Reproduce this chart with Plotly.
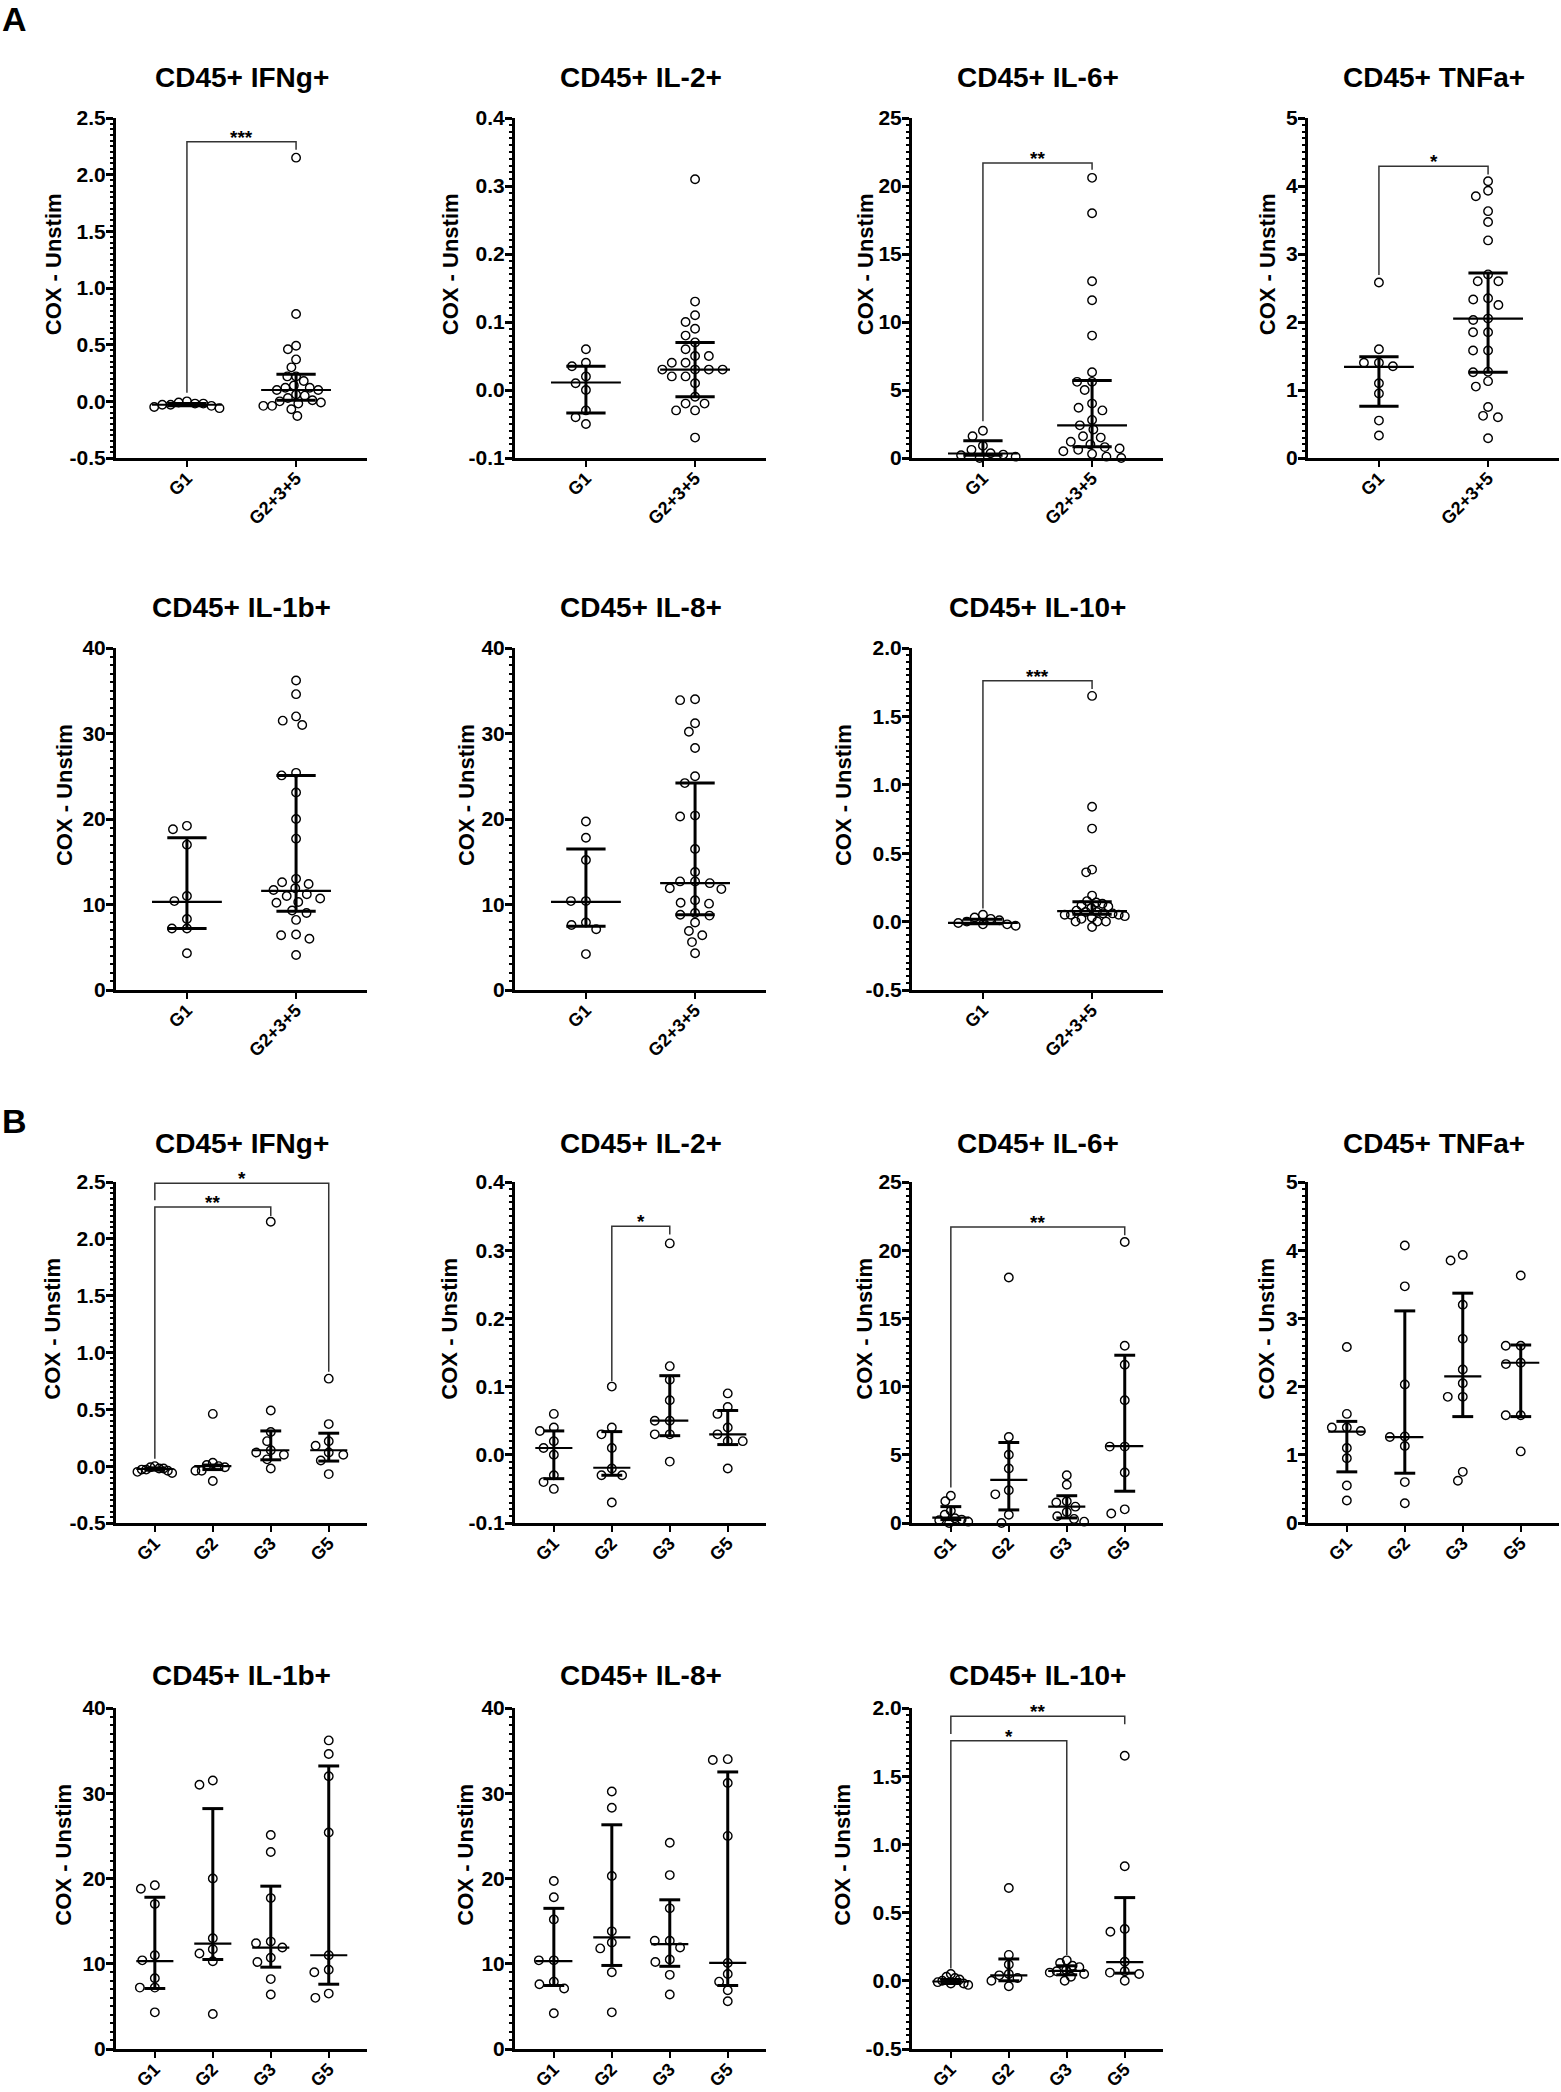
import math
import plotly.graph_objects as go

W, H = 1561, 2092
FONT = "Liberation Sans, Arial, sans-serif"

# ---- data (COX - Unstim values per donor) ----
CYTOKINES = ["IFNg", "IL-2", "IL-6", "TNFa", "IL-1b", "IL-8", "IL-10"]
GROUPS_A = ["G1", "G2+3+5"]
GROUPS_B = ["G1", "G2", "G3", "G5"]

IFNG_G1 = [0.00, -0.01, -0.02, -0.02, -0.03, -0.03, -0.04, -0.05, -0.06]
IFNG_G2 = [0.46, 0.03, 0.01, 0.00, -0.01, -0.04, -0.04, -0.13]
IFNG_G3 = [2.15, 0.49, 0.30, 0.22, 0.14, 0.12, 0.10, 0.06, -0.02]
IFNG_G5 = [0.77, 0.37, 0.22, 0.18, 0.12, 0.10, 0.05, -0.07]

IL2_G1 = [0.06, 0.04, 0.035, 0.02, 0.01, 0.00, -0.03, -0.04, -0.05]
IL2_G2 = [0.10, 0.04, 0.03, 0.01, -0.02, -0.03, -0.03, -0.07]
IL2_G3 = [0.31, 0.13, 0.11, 0.08, 0.05, 0.05, 0.03, 0.03, -0.01]
IL2_G5 = [0.09, 0.07, 0.06, 0.04, 0.03, 0.02, 0.02, -0.02]

IL6_G1 = [2.0, 1.6, 0.9, 0.6, 0.35, 0.25, 0.2, 0.1, 0.0]
IL6_G2 = [18.0, 6.3, 5.0, 4.0, 2.4, 2.1, 0.6, 0.0]
IL6_G3 = [3.5, 2.8, 1.6, 1.5, 1.2, 0.8, 0.5, 0.3, 0.1]
IL6_G5 = [20.6, 13.0, 11.6, 9.0, 5.6, 5.6, 3.7, 1.0, 0.7]

TNF_G1 = [2.58, 1.6, 1.4, 1.4, 1.35, 1.1, 0.95, 0.55, 0.33]
TNF_G2 = [4.07, 3.47, 2.03, 1.27, 1.26, 1.13, 0.6, 0.29]
TNF_G3 = [3.93, 3.85, 3.2, 2.7, 2.25, 2.05, 1.85, 1.85, 0.75, 0.62]
TNF_G5 = [3.63, 2.6, 2.6, 2.35, 2.33, 1.58, 1.58, 1.05]

IL1B_G1 = [19.2, 18.8, 17.0, 11.0, 10.4, 8.3, 7.2, 7.2, 4.3]
IL1B_G2 = [31.5, 31.0, 20.0, 13.0, 11.7, 11.2, 10.3, 4.1]
IL1B_G3 = [25.1, 23.1, 17.7, 12.6, 12.4, 11.9, 10.7, 10.2, 8.2, 6.4]
IL1B_G5 = [36.2, 34.6, 32.0, 25.4, 11.0, 9.3, 9.0, 6.5, 6.0]

IL8_G1 = [19.7, 17.8, 15.2, 10.4, 10.4, 7.9, 7.6, 7.1, 4.2]
IL8_G2 = [30.2, 28.3, 20.3, 13.8, 12.5, 11.8, 9.0, 4.3]
IL8_G3 = [24.2, 20.4, 16.5, 12.7, 12.7, 11.9, 10.5, 10.2, 8.7, 6.4]
IL8_G5 = [34.0, 33.9, 31.2, 25.0, 10.1, 8.8, 7.9, 6.9, 5.6]

IL10_G1 = [0.05, 0.03, 0.02, 0.01, 0.00, -0.01, -0.02, -0.02, -0.03]
IL10_G2 = [0.68, 0.19, 0.12, 0.05, 0.04, 0.02, 0.00, -0.04]
IL10_G3 = [0.15, 0.13, 0.11, 0.10, 0.08, 0.07, 0.06, 0.05, 0.03, 0.00]
IL10_G5 = [1.65, 0.84, 0.38, 0.36, 0.14, 0.07, 0.06, 0.05, 0.00]

VALUES = {
    "IFNg": [IFNG_G1, IFNG_G2, IFNG_G3, IFNG_G5],
    "IL-2": [IL2_G1, IL2_G2, IL2_G3, IL2_G5],
    "IL-6": [IL6_G1, IL6_G2, IL6_G3, IL6_G5],
    "TNFa": [TNF_G1, TNF_G2, TNF_G3, TNF_G5],
    "IL-1b": [IL1B_G1, IL1B_G2, IL1B_G3, IL1B_G5],
    "IL-8": [IL8_G1, IL8_G2, IL8_G3, IL8_G5],
    "IL-10": [IL10_G1, IL10_G2, IL10_G3, IL10_G5],
}

# median with interquartile range as drawn: (median, q1, q3)
SUMMARY_A = {
    "IFNg": [(-0.03, -0.04, -0.02), (0.10, 0.01, 0.24)],
    "IL-2": [(0.011, -0.034, 0.035), (0.03, -0.01, 0.07)],
    "IL-6": [(0.33, 0.2, 1.26), (2.4, 0.83, 5.7)],
    "TNFa": [(1.34, 0.76, 1.49), (2.05, 1.26, 2.72)],
    "IL-1b": [(10.3, 7.2, 17.8), (11.6, 9.2, 25.1)],
    "IL-8": [(10.3, 7.45, 16.5), (12.5, 8.8, 24.2)],
    "IL-10": [(-0.01, -0.015, 0.017), (0.076, 0.054, 0.145)],
}
SUMMARY_B = {
    "IFNg": [(-0.025, -0.035, -0.015), (0.0, -0.03, 0.01), (0.14, 0.056, 0.31), (0.14, 0.045, 0.29)],
    "IL-2": [(0.01, -0.035, 0.035), (-0.019, -0.03, 0.034), (0.05, 0.028, 0.116), (0.03, 0.015, 0.065)],
    "IL-6": [(0.4, 0.25, 1.2), (3.16, 0.96, 5.9), (1.2, 0.37, 2.0), (5.64, 2.33, 12.3)],
    "TNFa": [(1.34, 0.75, 1.49), (1.26, 0.73, 3.11), (2.15, 1.56, 3.37), (2.35, 1.56, 2.61)],
    "IL-1b": [(10.3, 7.1, 17.8), (12.35, 10.5, 28.2), (11.9, 9.6, 19.1), (11.0, 7.6, 33.2)],
    "IL-8": [(10.3, 7.45, 16.5), (13.1, 9.8, 26.3), (12.3, 9.7, 17.5), (10.1, 7.45, 32.5)],
    "IL-10": [(-0.005, -0.02, 0.01), (0.04, 0.0, 0.16), (0.073, 0.044, 0.11), (0.137, 0.056, 0.61)],
}

# significance brackets: (cytokine, left group, right group, bar y, left leg end, right leg end, stars)
BRACKETS_A = [
    ("IFNg", 0, 1, 2.29, 0.075, 2.22, "***"),
    ("IL-6", 0, 1, 21.7, 2.7, 21.2, "**"),
    ("TNFa", 0, 1, 4.29, 2.69, 4.17, "*"),
    ("IL-10", 0, 1, 1.76, 0.095, 1.70, "***"),
]
BRACKETS_B = [
    ("IFNg", 0, 3, 2.49, 2.34, 0.83, "*"),
    ("IFNg", 0, 2, 2.28, 0.065, 2.20, "**"),
    ("IL-2", 1, 2, 0.335, 0.108, 0.323, "*"),
    ("IL-6", 0, 3, 21.7, 2.6, 21.1, "**"),
    ("IL-10", 0, 3, 1.94, 1.81, 1.88, "**"),
    ("IL-10", 0, 2, 1.76, 0.09, 0.19, "*"),
]

# axis settings per cytokine: range, major step, minor step, decimals, y-title gap (px)
Y_RANGE = {"IFNg": (-0.5, 2.5), "IL-2": (-0.1, 0.4), "IL-6": (0, 25), "TNFa": (0, 5),
           "IL-1b": (0, 40), "IL-8": (0, 40), "IL-10": (-0.5, 2.0)}
Y_STEP = {"IFNg": 0.5, "IL-2": 0.1, "IL-6": 5, "TNFa": 1, "IL-1b": 10, "IL-8": 10, "IL-10": 0.5}
Y_MINOR = {"IFNg": 0.05, "IL-2": 0.01, "IL-6": 0.5, "TNFa": 0.1, "IL-1b": 1, "IL-8": 1, "IL-10": 0.05}
Y_DEC = {"IFNg": 1, "IL-2": 1, "IL-6": 0, "TNFa": 0, "IL-1b": 0, "IL-8": 0, "IL-10": 1}
YT_GAP = {"IFNg": 63, "IL-2": 65, "IL-6": 47, "TNFa": 41, "IL-1b": 52, "IL-8": 49, "IL-10": 69}

# page geometry in pixels
COL_X = [116, 515, 912, 1308]
PLOT_W = 251
ROWS = [(118, 458), (648, 990), (1182, 1523), (1708, 2049)]
TITLE_Y = [77, 607, 1143, 1675]
X_RANGE = {"A": (-0.65, 1.65), "B": (-0.67, 3.66)}


def swarm(vals, ppx, ppy, d=15.0, ky=1.6, limit=0.3):
    # beeswarm: points sharing a row sit d px apart, rows closer than d/ky px interact;
    # then the whole group is squeezed to +-limit category units like Prism does
    order = sorted(range(len(vals)), key=lambda i: -vals[i])
    placed = []
    offs = [0.0] * len(vals)
    for i in order:
        y = vals[i] * ppy * ky
        cands = [0.0]
        for px, py in placed:
            dy = abs(py - y)
            if dy < d:
                dx = math.sqrt(d * d - dy * dy)
                cands += [px - dx, px + dx]
        cands.sort(key=lambda c: (round(abs(c), 6), c))
        for c in cands:
            if all((c - px) ** 2 + (y - py) ** 2 >= d * d - 1e-6 for px, py in placed):
                offs[i] = c
                placed.append((c, y))
                break
    widest = max(abs(o) for o in offs)
    scale = min(1.0, limit * ppx / widest) if widest > 0 else 1.0
    return [o * scale / ppx for o in offs]


fig = go.Figure()
layout = {}
annotations = []
k = 0

for part, rows in (("A", (0, 1)), ("B", (2, 3))):
    groups = GROUPS_A if part == "A" else GROUPS_B
    summary = SUMMARY_A if part == "A" else SUMMARY_B
    brackets = BRACKETS_A if part == "A" else BRACKETS_B
    for idx, name in enumerate(CYTOKINES):
        r = rows[0] if idx < 4 else rows[1]
        c = idx if idx < 4 else idx - 4
        k += 1
        x0 = COL_X[c]
        top, bot = ROWS[r]
        xr = X_RANGE[part]
        yr = Y_RANGE[name]
        ppx = PLOT_W / (xr[1] - xr[0])
        ppy = (bot - top) / (yr[1] - yr[0])
        xa, ya = f"x{k}", f"y{k}"

        g1, g2, g3, g5 = VALUES[name]
        group_vals = [g1, g2 + g3 + g5] if part == "A" else [g1, g2, g3, g5]

        for g, vals in enumerate(group_vals):
            offs = swarm(vals, ppx, ppy)
            fig.add_trace(go.Scatter(
                x=[g + o for o in offs], y=vals, mode="markers", xaxis=xa, yaxis=ya,
                marker=dict(symbol="circle-open", size=8.5, color="black", line=dict(width=1.4)),
                cliponaxis=False, hoverinfo="skip"))

        for g, (med, q1, q3) in enumerate(summary[name]):
            fig.add_trace(go.Scatter(
                x=[g - 0.32, g + 0.32], y=[med, med], mode="lines", xaxis=xa, yaxis=ya,
                line=dict(color="black", width=2.2), hoverinfo="skip"))
            fig.add_trace(go.Scatter(
                x=[g, g, None, g - 0.18, g + 0.18, None, g - 0.18, g + 0.18],
                y=[q1, q3, None, q1, q1, None, q3, q3],
                mode="lines", xaxis=xa, yaxis=ya, line=dict(color="black", width=3),
                hoverinfo="skip"))

        for (bn, a, b, yb, yl, yrr, stars) in brackets:
            if bn != name:
                continue
            fig.add_trace(go.Scatter(
                x=[a, a, b, b], y=[yl, yb, yb, yrr], mode="lines", xaxis=xa, yaxis=ya,
                line=dict(color="#333333", width=1.5), hoverinfo="skip"))
            annotations.append(dict(
                x=(a + b) / 2, y=yb, xref=xa, yref=ya, text=f"<b>{stars}</b>", showarrow=False,
                yanchor="bottom", yshift=-8, font=dict(family=FONT, size=19, color="black")))

        ticks = []
        v = yr[0]
        while v <= yr[1] + 1e-9:
            ticks.append(round(v, 4))
            v += Y_STEP[name]
        layout[f"xaxis{k}"] = dict(
            domain=[x0 / W, (x0 + PLOT_W) / W], anchor=ya, range=list(xr),
            tickmode="array", tickvals=list(range(len(groups))), ticktext=groups,
            tickangle=-45, ticks="outside", ticklen=6, tickwidth=2, tickcolor="black",
            ticklabelstandoff=-6,
            showline=True, linewidth=2.5, linecolor="black", showgrid=False, zeroline=False,
            tickfont=dict(family=FONT, size=18, color="black", weight="bold"), automargin=False)
        layout[f"yaxis{k}"] = dict(
            domain=[1 - bot / H, 1 - top / H], anchor=xa, range=list(yr),
            tickmode="array", tickvals=ticks, ticktext=[f"{t:.{Y_DEC[name]}f}" for t in ticks],
            ticks="outside", ticklen=7, tickwidth=2.5, tickcolor="black",
            ticklabelstandoff=-4,
            minor=dict(tick0=yr[0], dtick=Y_MINOR[name], ticks="outside", ticklen=3.5,
                       tickwidth=1.5, tickcolor="black", showgrid=False),
            showline=True, linewidth=3, linecolor="black", showgrid=False, zeroline=False,
            tickfont=dict(family=FONT, size=21, color="black", weight="bold"), automargin=False)

        annotations.append(dict(
            x=(x0 + PLOT_W / 2) / W, y=1 - TITLE_Y[r] / H, xref="paper", yref="paper",
            text=f"<b>CD45+ {name}+</b>", showarrow=False, xanchor="center", yanchor="middle",
            font=dict(family=FONT, size=28, color="black")))
        annotations.append(dict(
            x=(x0 - YT_GAP[name]) / W, y=1 - (top + 0.43 * (bot - top)) / H,
            xref="paper", yref="paper", text="<b>COX - Unstim</b>", showarrow=False,
            textangle=-90, xanchor="center", yanchor="middle",
            font=dict(family=FONT, size=22, color="black")))

for lab, ly in (("A", 19), ("B", 1121)):
    annotations.append(dict(
        x=0, y=1 - ly / H, xref="paper", yref="paper", text=f"<b>{lab}</b>", showarrow=False,
        xanchor="left", yanchor="middle", font=dict(family=FONT, size=34, color="black")))

fig.update_layout(
    width=W, height=H, margin=dict(l=0, r=0, t=0, b=0),
    paper_bgcolor="white", plot_bgcolor="white", showlegend=False,
    annotations=annotations, **layout)

fig.write_html("out.html", config={"displayModeBar": False},
               post_script="document.body.style.margin='0';document.body.style.overflow='hidden';")
